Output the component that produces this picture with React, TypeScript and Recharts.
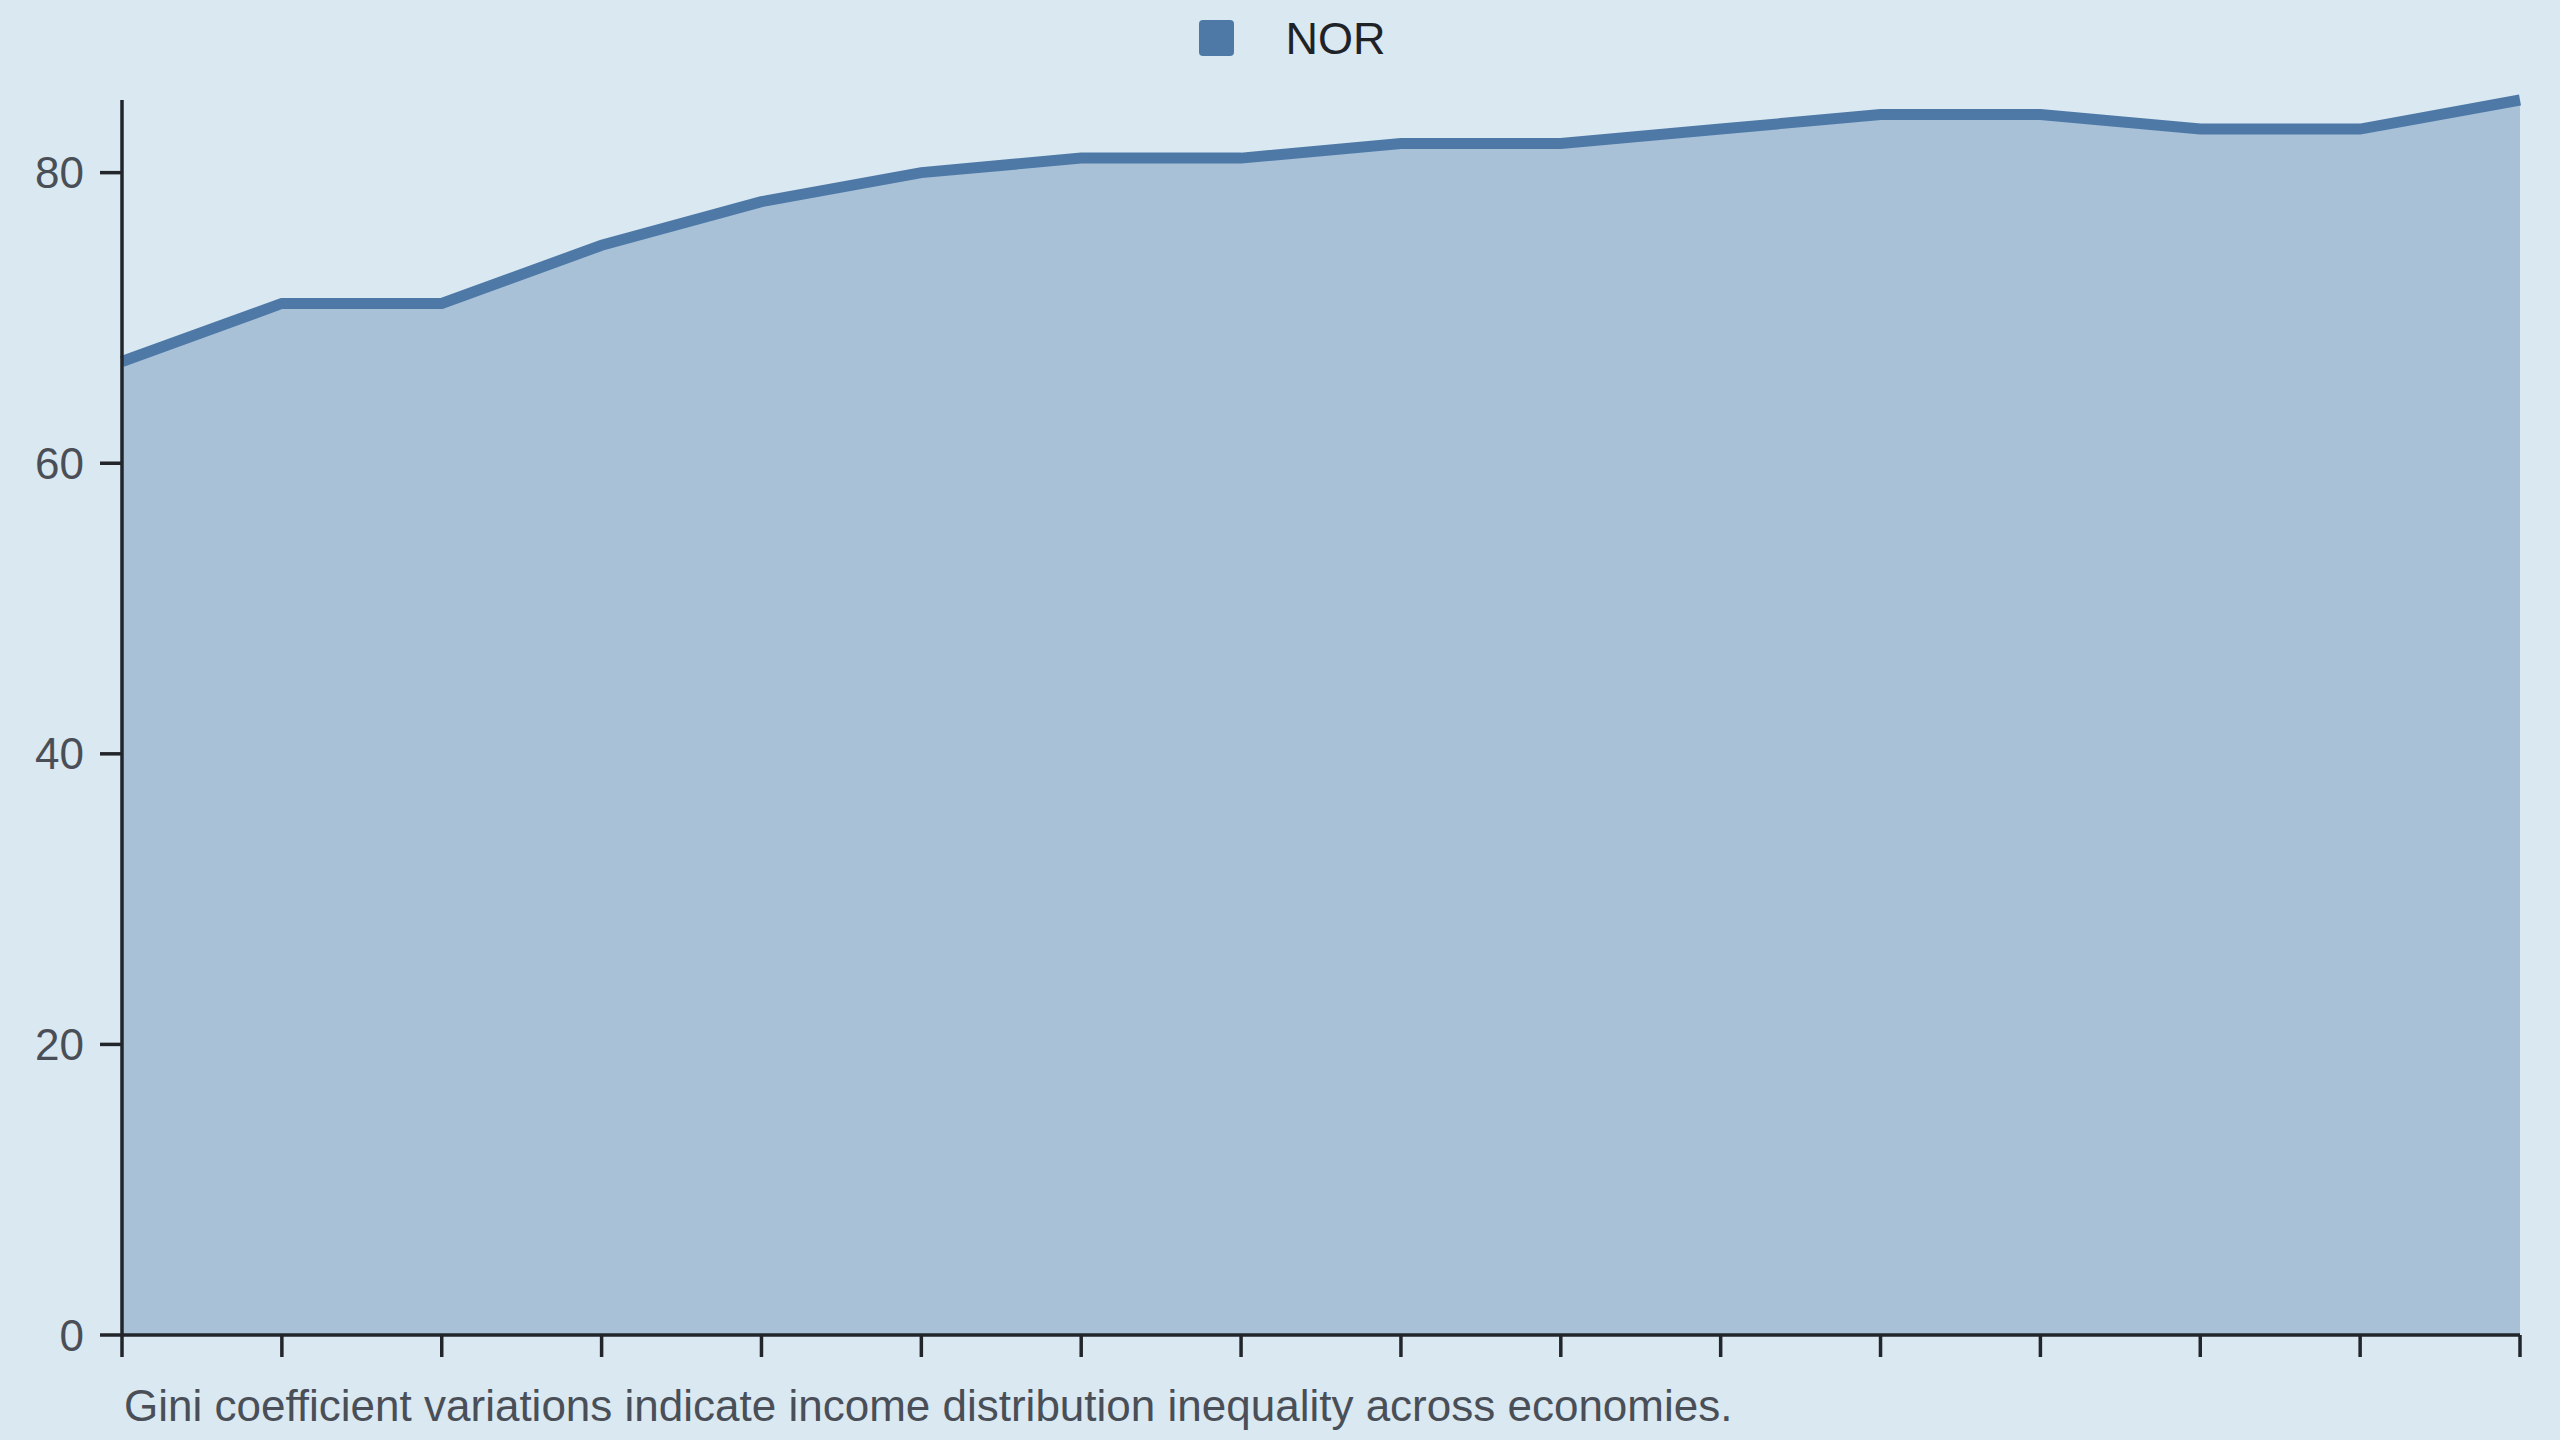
import React from 'react';
import { AreaChart, Area, XAxis, YAxis, Legend } from 'recharts';

const years = [
  '2000', '2001', '2002', '2003', '2004', '2005', '2006', '2007',
  '2008', '2009', '2010', '2011', '2012', '2013', '2014', '2015',
];
const norValues = [67, 71, 71, 75, 78, 80, 81, 81, 82, 82, 83, 84, 84, 83, 83, 85];
const yTicks = [0, 20, 40, 60, 80];

const SERIES_COLOR = '#4e79a7';
const BG = '#d9e8f1';
const AXIS_COLOR = '#22262b';
const FONT = '"Liberation Sans", Arial, sans-serif';

const data = years.map((year, i) => ({ year, NOR: norValues[i] }));

const LegendContent = ({ payload }: any) => (
  <div
    style={{
      height: 76,
      display: 'flex',
      justifyContent: 'center',
      alignItems: 'center',
      fontFamily: FONT,
    }}
  >
    {(payload || []).map((entry: any) => (
      <div key={entry.value} style={{ display: 'flex', alignItems: 'center', marginLeft: 64 }}>
        <span
          style={{
            width: 35,
            height: 36,
            borderRadius: 4,
            background: SERIES_COLOR,
            display: 'inline-block',
            marginRight: 52,
          }}
        />
        <span style={{ fontSize: 45, color: '#1f2328', lineHeight: 1 }}>{entry.value}</span>
      </div>
    ))}
  </div>
);

export default function App() {
  return (
    <div
      style={{
        position: 'fixed',
        left: 0,
        top: 0,
        width: 2560,
        height: 1440,
        background: BG,
        overflow: 'hidden',
      }}
    >
      <AreaChart
        width={2560}
        height={1440}
        data={data}
        margin={{ top: 24, right: 40, bottom: 80, left: 0 }}
      >
        <Legend verticalAlign="top" content={<LegendContent />} wrapperStyle={{ top: 0, left: 0 }} />
        <XAxis
          dataKey="year"
          interval={0}
          tickFormatter={() => ''}
          height={25}
          tickSize={22}
          axisLine={{ stroke: AXIS_COLOR, strokeWidth: 3.5 }}
          tickLine={{ stroke: AXIS_COLOR, strokeWidth: 3.5 }}
        />
        <YAxis
          width={122}
          domain={[0, 85]}
          ticks={yTicks}
          tickSize={22}
          tickMargin={16}
          axisLine={{ stroke: AXIS_COLOR, strokeWidth: 3.5 }}
          tickLine={{ stroke: AXIS_COLOR, strokeWidth: 3.5 }}
          tick={{ fill: '#4a4f57', fontSize: 44, fontFamily: FONT }}
        />
        <Area
          type="linear"
          dataKey="NOR"
          name="NOR"
          stroke={SERIES_COLOR}
          strokeWidth={11}
          fill={SERIES_COLOR}
          fillOpacity={0.35}
          dot={false}
          activeDot={false}
          isAnimationActive={false}
        />
      </AreaChart>
      <div
        style={{
          position: 'absolute',
          left: 124,
          top: 1384,
          fontFamily: FONT,
          fontSize: 44,
          lineHeight: 1,
          color: '#4a4f57',
          whiteSpace: 'nowrap',
        }}
      >
        Gini coefficient variations indicate income distribution inequality across economies.
      </div>
    </div>
  );
}
